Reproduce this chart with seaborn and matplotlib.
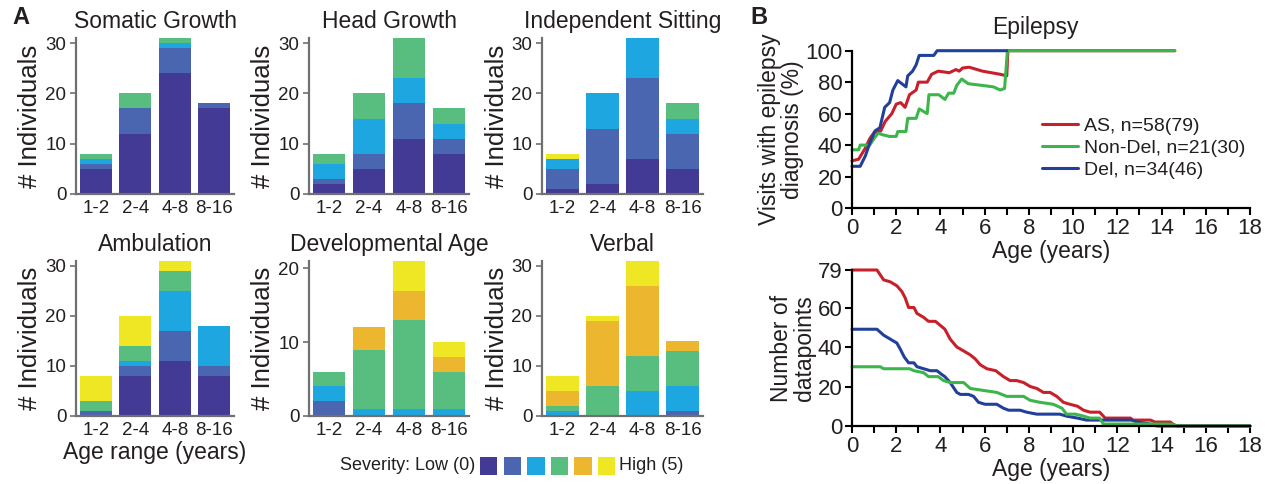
import numpy as np
import matplotlib
matplotlib.use("Agg")
import matplotlib.pyplot as plt
import seaborn as sns
from matplotlib.patches import Rectangle
from matplotlib.ticker import MultipleLocator
from matplotlib.lines import Line2D

# ---------------- data ----------------
age_ranges = ["1-2", "2-4", "4-8", "8-16"]
severity_colors = ["#433A96", "#4B66B0", "#1DA6E0", "#57BE80", "#EDB62F", "#EFE724"]

# counts per age range, severity 0..5
somatic_growth = [[5, 1, 1, 1, 0, 0], [12, 5, 0, 3, 0, 0], [24, 5, 1, 1, 0, 0], [17, 1, 0, 0, 0, 0]]
head_growth = [[2, 1, 3, 2, 0, 0], [5, 3, 7, 5, 0, 0], [11, 7, 5, 8, 0, 0], [8, 3, 3, 3, 0, 0]]
independent_sitting = [[1, 4, 2, 0, 0, 1], [2, 11, 7, 0, 0, 0], [7, 16, 8, 0, 0, 0], [5, 7, 3, 3, 0, 0]]
ambulation = [[0, 1, 0, 2, 0, 5], [8, 2, 1, 3, 0, 6], [11, 6, 8, 4, 0, 2], [8, 2, 8, 0, 0, 0]]
developmental_age = [[0, 2, 2, 2, 0, 0], [0, 0, 1, 8, 3, 0], [0, 0, 1, 12, 4, 4], [0, 0, 1, 5, 2, 2]]
verbal = [[0, 0, 1, 1, 3, 3], [0, 0, 0, 6, 13, 1], [0, 0, 5, 7, 14, 5], [0, 1, 5, 7, 2, 0]]

group_labels = ["AS, n=58(79)", "Non-Del, n=21(30)", "Del, n=34(46)"]
group_colors = ["#C8202A", "#3CB54A", "#22409A"]

# epilepsy (% visits with diagnosis)
as_epi_age = [0, 0.3, 0.6, 0.8, 1.0, 1.3, 1.5, 1.8, 2.0, 2.2, 2.4, 2.6, 2.9, 3.0, 3.4, 3.6, 3.9, 4.4, 4.7, 4.85, 5.0, 5.3, 5.9, 6.3, 6.7, 7.0, 7.05, 14.6]
as_epi_pct = [30, 31, 38, 44, 48, 49, 55, 60, 66, 67, 64, 72, 75, 80, 80, 85, 87, 86, 88, 87, 89, 89.5, 87, 86, 85, 84, 100, 100]
nondel_epi_age = [0, 0.3, 0.37, 0.8, 1.04, 1.18, 1.4, 1.7, 2.0, 2.07, 2.44, 2.52, 2.9, 3.04, 3.4, 3.48, 3.93, 4.2, 4.37, 4.6, 4.74, 4.96, 5.26, 5.85, 6.4, 6.7, 6.9, 7.03, 14.6]
nondel_epi_pct = [37, 37, 40, 40, 45, 47.5, 46.5, 45.5, 45.5, 48.6, 48.6, 57, 57, 63, 60, 72, 72, 69, 73, 73, 78, 82, 79, 78, 77, 75, 76, 100, 100]
del_epi_age = [0, 0.37, 0.6, 0.8, 1.04, 1.26, 1.48, 1.7, 1.85, 2.07, 2.44, 2.52, 2.74, 2.9, 3.04, 3.7, 3.85, 7.0]
del_epi_pct = [26.5, 26.5, 33, 41, 49, 51, 64, 67, 75, 81, 77, 84, 87, 91, 97, 97, 100, 100]

# number of datapoints
as_n_age = [0, 1.13, 1.43, 1.73, 2.03, 2.26, 2.4, 2.56, 2.8, 2.94, 3.24, 3.46, 3.77, 3.99, 4.2, 4.44, 4.74, 5.05, 5.35, 5.57, 5.8, 6.1, 6.5, 6.85, 7.15, 7.45, 7.76, 8.06, 8.36, 8.66, 8.96, 9.26, 9.56, 9.86, 10.2, 10.47, 10.77, 11.2, 11.45, 12.6, 12.7, 13.5, 13.7, 14.4, 14.5, 14.7, 18]
as_n_count = [79, 79, 74, 73, 71, 68, 65, 60, 60, 57, 55, 53, 53, 51, 49, 44, 40, 38, 36, 34, 31, 29, 28, 25, 23, 23, 22, 20, 19, 17, 17, 15, 12, 11, 10, 8, 7, 7, 4, 4, 3, 3, 2, 2, 1, 0, 0]
del_n_age = [0, 1.13, 1.43, 1.73, 2.03, 2.18, 2.36, 2.56, 2.8, 2.94, 3.24, 3.54, 3.84, 4.07, 4.2, 4.44, 4.74, 4.9, 5.27, 5.5, 5.72, 6.02, 6.55, 6.85, 7.08, 7.6, 7.9, 8.36, 9.4, 9.7, 10.2, 10.6, 12.0, 12.65, 12.9, 13.5, 13.8, 18]
del_n_count = [49, 49, 46, 44, 42, 39, 35, 32, 32, 30, 29, 28, 28, 26, 25, 22, 17, 16, 16, 15, 12, 11, 11, 9, 8, 8, 7, 6, 6, 5, 4, 3, 3, 3, 2, 1, 0, 0]
nondel_n_age = [0, 1.28, 1.43, 2.6, 2.8, 3.24, 3.46, 3.9, 4.14, 4.44, 5.05, 5.35, 5.95, 6.55, 7.0, 7.76, 8.06, 8.5, 9.1, 9.5, 9.7, 10.1, 10.47, 10.77, 11.2, 11.37, 14.4, 14.7, 18]
nondel_n_count = [30, 30, 29, 29, 28, 27, 25, 25, 23, 22, 22, 19, 18, 17, 15, 15, 13, 12, 11, 9, 6, 6, 5, 4, 4, 1, 1, 0, 0]

# ---------------- style ----------------
sns.set_theme(style="ticks")
plt.rcParams["font.family"] = ["Liberation Sans", "DejaVu Sans"]
TXT = "#231F20"
plt.rcParams["text.color"] = TXT
plt.rcParams["axes.labelcolor"] = TXT
plt.rcParams["xtick.color"] = TXT
plt.rcParams["ytick.color"] = TXT

W, H = 1265, 484
fig = plt.figure(figsize=(W / 100, H / 100), dpi=100)


def px_axes(x0, y_top, x1, y_bot):
    return fig.add_axes([x0 / W, 1 - y_bot / H, (x1 - x0) / W, (y_bot - y_top) / H])


def bar_panel(ax, counts, title, ymax, yticks, xlabel=""):
    cum = np.cumsum(np.array(counts), axis=1)
    for s in range(5, -1, -1):
        sns.barplot(x=age_ranges, y=cum[:, s], order=age_ranges, color=severity_colors[s],
                    saturation=1, width=0.82, linewidth=0, errorbar=None, ax=ax)
    ax.set_xlim(-0.5, 3.5)
    ax.set_ylim(0, ymax)
    ax.set_yticks(yticks)
    ax.set_title(title, fontsize=16.5, pad=7)
    ax.set_ylabel("# Individuals", fontsize=18.5, labelpad=2)
    ax.set_xlabel(xlabel, fontsize=16.5, labelpad=2)
    sns.despine(ax=ax)
    for sp in ["left", "bottom"]:
        ax.spines[sp].set_color("#707070")
        ax.spines[sp].set_linewidth(1.6)
    ax.tick_params(axis="y", length=4, width=1.2, color="#707070", labelsize=13.5, pad=3)
    ax.tick_params(axis="x", length=0, labelsize=13.5, pad=4)


lefts = [(76, 234), (309, 469), (542, 703)]
top_row = (38, 194)
bot_row = (261, 416)

panels = [
    (somatic_growth, "Somatic Growth", 31, [0, 10, 20, 30], 0, 0, ""),
    (head_growth, "Head Growth", 31, [0, 10, 20, 30], 0, 1, ""),
    (independent_sitting, "Independent Sitting", 31, [0, 10, 20, 30], 0, 2, ""),
    (ambulation, "Ambulation", 31, [0, 10, 20, 30], 1, 0, "Age range (years)"),
    (developmental_age, "Developmental Age", 21, [0, 10, 20], 1, 1, ""),
    (verbal, "Verbal", 31, [0, 10, 20, 30], 1, 2, ""),
]
for counts, title, ymax, yt, r, c, xl in panels:
    yt0, yb0 = top_row if r == 0 else bot_row
    x0, x1 = lefts[c]
    ax = px_axes(x0, yt0, x1, yb0)
    bar_panel(ax, counts, title, ymax, yt, xl)

# severity legend
fig.text(475 / W, 1 - 466 / H, "Severity: Low (0)", ha="right", va="center", fontsize=13)
for i, col in enumerate(severity_colors):
    fig.patches.append(Rectangle(((480 + i * 23.5) / W, 1 - 475 / H), 17.5 / W, 18 / H,
                                 transform=fig.transFigure, facecolor=col, edgecolor="none"))
fig.text(619 / W, 1 - 466 / H, "High (5)", ha="left", va="center", fontsize=13)


def line_axes_style(ax):
    sns.despine(ax=ax)
    for sp in ["left", "bottom"]:
        ax.spines[sp].set_color("black")
        ax.spines[sp].set_linewidth(1.6)
    ax.set_xlim(0, 18)
    ax.xaxis.set_major_locator(MultipleLocator(2))
    ax.xaxis.set_minor_locator(MultipleLocator(1))
    ax.tick_params(which="both", direction="out", length=5, width=1.5, color="black", labelsize=16, pad=2)
    ax.set_xlabel("Age (years)", fontsize=16.5, labelpad=1)


# Epilepsy panel
ax_e = px_axes(852, 50.7, 1250, 208)
for xa, ya, col in [(as_epi_age, as_epi_pct, group_colors[0]),
                    (nondel_epi_age, nondel_epi_pct, group_colors[1]),
                    (del_epi_age, del_epi_pct, group_colors[2])]:
    sns.lineplot(x=xa, y=ya, color=col, linewidth=2.2, estimator=None, sort=False, ax=ax_e, clip_on=False)
ax_e.set_ylim(0, 100)
ax_e.set_yticks([0, 20, 40, 60, 80, 100])
line_axes_style(ax_e)
ax_e.set_ylabel("Visits with epilepsy\ndiagnosis (%)", fontsize=16.5, labelpad=1, linespacing=1.0)
ax_e.set_title("Epilepsy", fontsize=16.5, x=0.46, pad=12)
handles = [Line2D([], [], color=c, linewidth=2.2) for c in group_colors]
ax_e.legend(handles, group_labels, loc="center left", bbox_to_anchor=(0.477, 0.381), frameon=False,
            fontsize=14, handlelength=1.85, handletextpad=0.3, labelspacing=0.22,
            borderpad=0, borderaxespad=0)

# Datapoints panel
ax_n = px_axes(852, 270, 1250, 426)
for xa, ya, col in [(as_n_age, as_n_count, group_colors[0]),
                    (del_n_age, del_n_count, group_colors[2]),
                    (nondel_n_age, nondel_n_count, group_colors[1])]:
    sns.lineplot(x=xa, y=ya, color=col, linewidth=2.2, estimator=None, sort=False, ax=ax_n, clip_on=False)
ax_n.set_ylim(0, 79)
ax_n.set_yticks([0, 20, 40, 60, 79])
line_axes_style(ax_n)
ax_n.set_ylabel("Number of\ndatapoints", fontsize=16.5, labelpad=1, linespacing=1.0)

fig.text(12 / W, 1 - 18 / H, "A", fontsize=17, weight="bold", va="center", ha="left")
fig.text(750 / W, 1 - 18 / H, "B", fontsize=17, weight="bold", va="center", ha="left")

fig.savefig("out.png", dpi=100)
